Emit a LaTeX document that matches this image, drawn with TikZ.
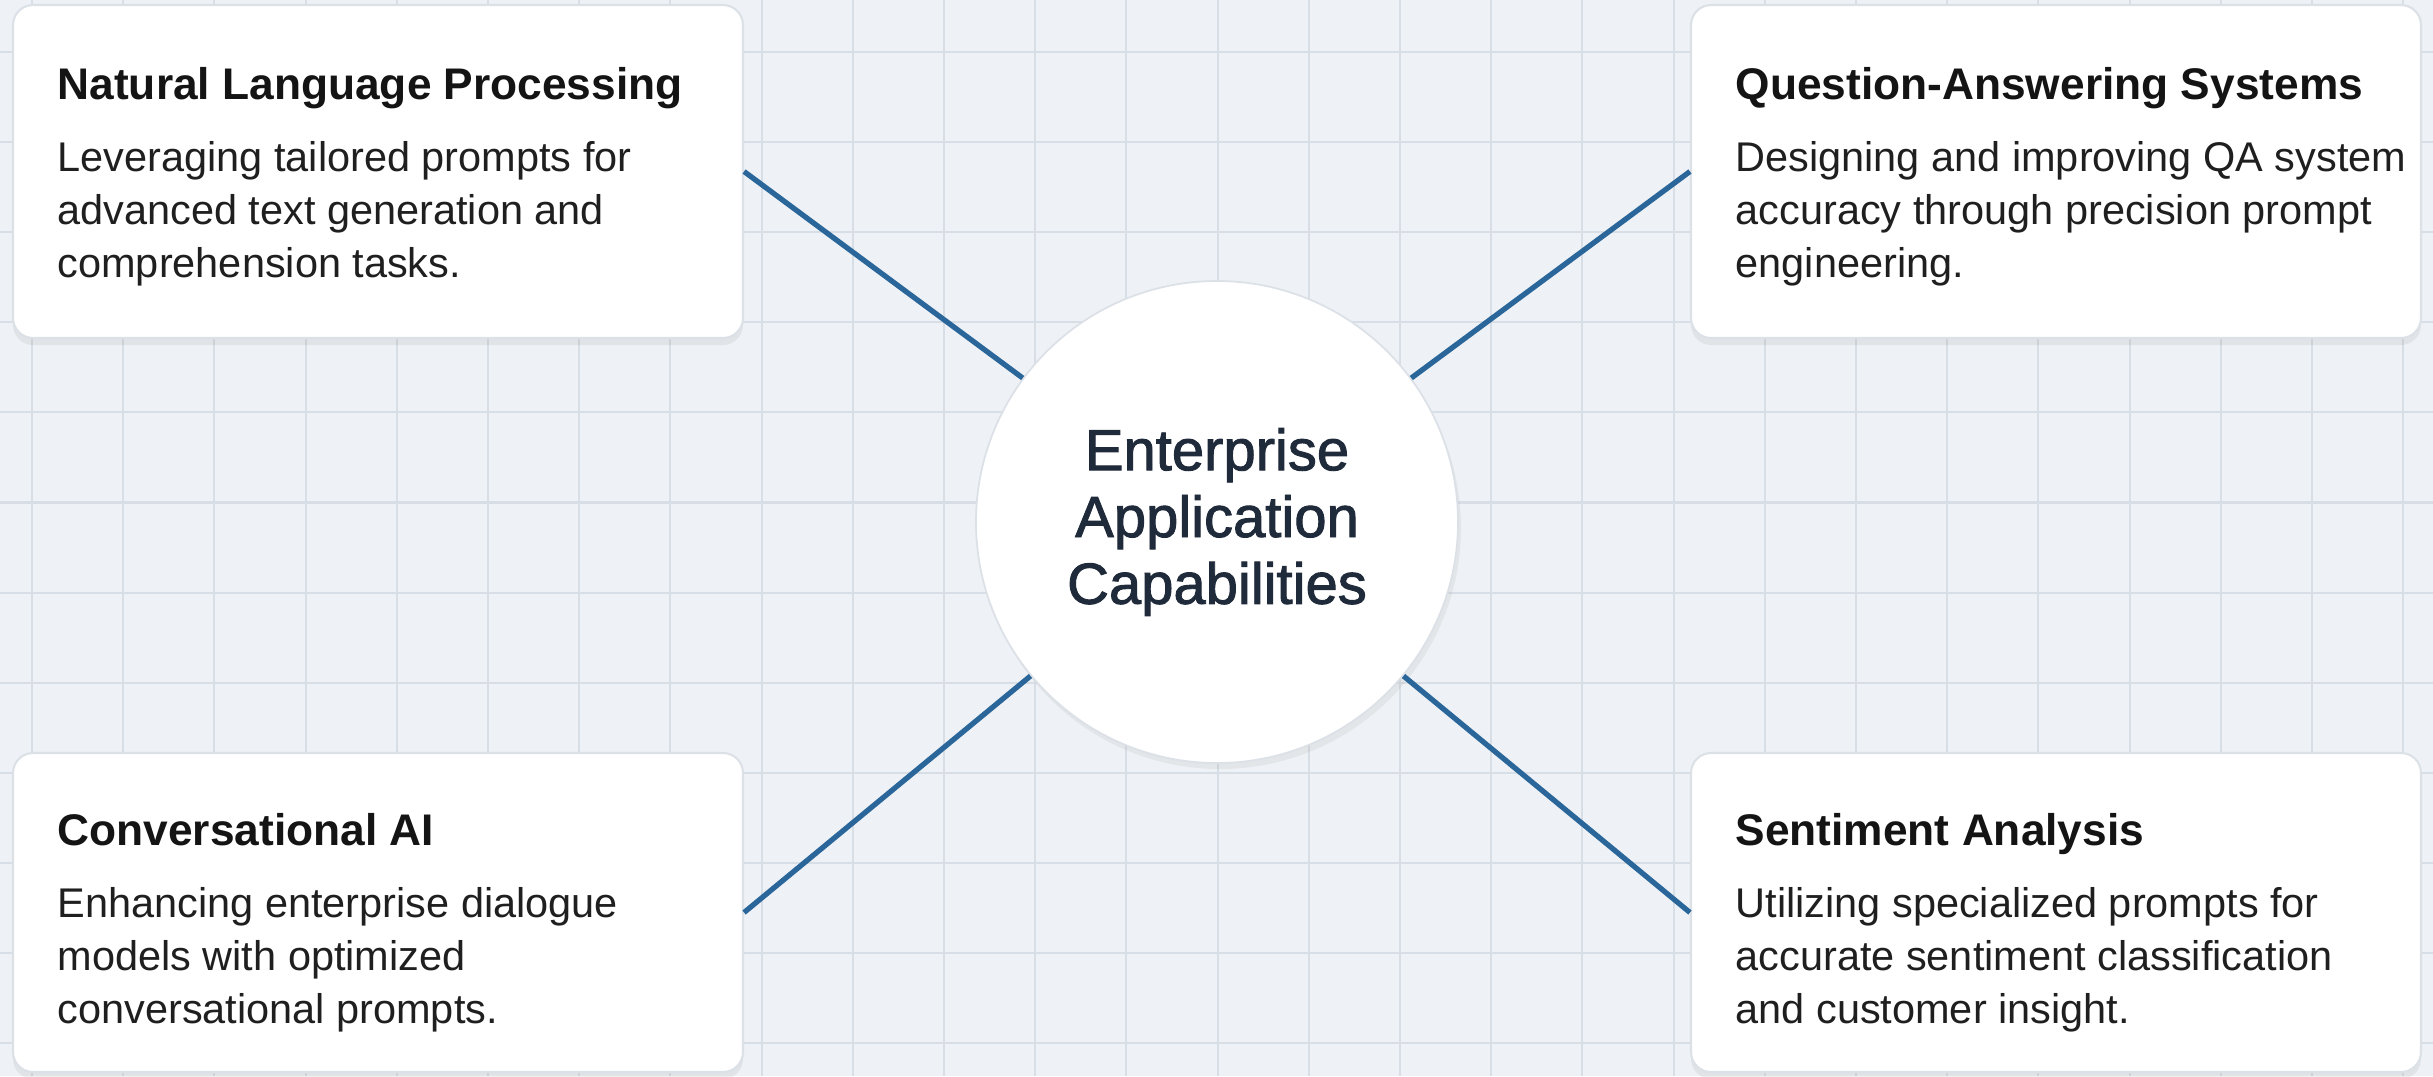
\documentclass[tikz,border=0pt]{standalone}
\usepackage{fontspec}
\setmainfont{Liberation Sans}
\newfontfamily\hubfont[FakeBold=1.6]{Liberation Sans}
\usetikzlibrary{calc,positioning,shadows}
\definecolor{paper}{HTML}{EEF2F6}
\definecolor{gridcol}{HTML}{D8DEE6}
\definecolor{linkblue}{HTML}{2A6699}
\definecolor{inkdark}{HTML}{1F2A3A}
\definecolor{cardedge}{HTML}{DCE1E7}
\tikzset{
	card/.style={draw=cardedge, line width=0.6pt, fill=white, rounded corners=0.2cm,
		minimum width=7.3cm, inner sep=0pt,
		drop shadow={opacity=0.12, shadow xshift=0cm, shadow yshift=-0.07cm}},
	cardtitle/.style={anchor=base west, inner sep=0pt, text=black!92,
		font=\fontsize{12.6}{15}\selectfont\bfseries},
	cardtext/.style={anchor=base west, inner sep=0pt, align=left, text=black!88,
		font=\fontsize{11.8}{15.1}\selectfont},
	hub/.style={circle, draw=cardedge, line width=0.5pt, fill=white, minimum size=4.82cm,
		align=center, text=inkdark, font=\fontsize{16.5}{19}\selectfont\hubfont,
		drop shadow={opacity=0.10, shadow xshift=0.03cm, shadow yshift=-0.06cm}},
	link/.style={draw=linkblue, line width=1.5pt},
}

\begin{document}
\begin{tikzpicture}[gridline/.style={draw=gridcol, line width=0.6pt}]
	\useasboundingbox (0,0) rectangle (24.33,-10.76);
	\fill[paper] (0,0) rectangle (24.33,-10.76);
	\foreach \i in {0,...,26}
		\draw[gridline] ({0.32+\i*0.912},0) -- ++(0,-10.76);
	\foreach \j in {0,...,11}
		\draw[gridline] (0,{-0.52-\j*0.901}) -- ++(24.33,0);

	\node[hub] (hub) at (12.17,-5.22) {Enterprise\\Application\\Capabilities};

	\node[card, minimum height=3.33cm] (nlp) at (3.78,-1.715) {};
	\node[card, minimum height=3.33cm] (qa) at (20.56,-1.715) {};
	\node[card, minimum height=3.19cm] (conv) at (3.78,-9.125) {};
	\node[card, minimum height=3.19cm] (senti) at (20.56,-9.125) {};

	\draw[link] (nlp.east) -- (hub);
	\draw[link] (qa.west) -- (hub);
	\draw[link] (conv.east) -- (hub);
	\draw[link] (senti.west) -- (hub);

	\node[cardtitle] (nlpT) at ($(nlp.north west)+(0.45,-0.96)$) {Natural Language Processing};
	\node[cardtext] (nlpB) at ($(nlpT.base west)+(0,-1.78)$)
		{Leveraging tailored prompts for\\advanced text generation and\\comprehension tasks.};
	\node[cardtitle] (qaT) at ($(qa.north west)+(0.45,-0.96)$) {Question-Answering Systems};
	\node[cardtext] (qaB) at ($(qaT.base west)+(0,-1.78)$)
		{Designing and improving QA system\\accuracy through precision prompt\\engineering.};
	\node[cardtitle] (convT) at ($(conv.north west)+(0.45,-0.94)$) {Conversational AI};
	\node[cardtext] (convB) at ($(convT.base west)+(0,-1.78)$)
		{Enhancing enterprise dialogue\\models with optimized\\conversational prompts.};
	\node[cardtitle] (sentiT) at ($(senti.north west)+(0.45,-0.94)$) {Sentiment Analysis};
	\node[cardtext] (sentiB) at ($(sentiT.base west)+(0,-1.78)$)
		{Utilizing specialized prompts for\\accurate sentiment classification\\and customer insight.};
\end{tikzpicture}
\end{document}
